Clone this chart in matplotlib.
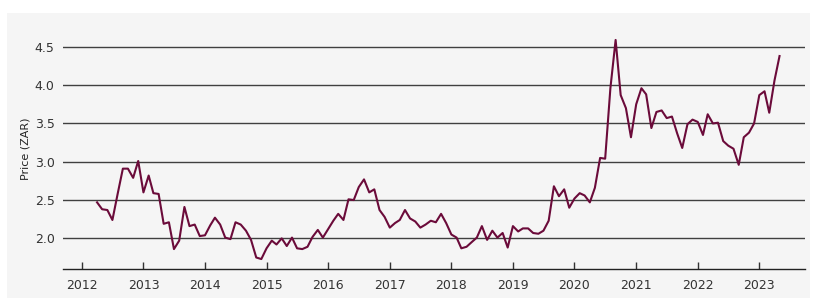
import matplotlib
matplotlib.use("Agg")
import matplotlib.pyplot as plt
from matplotlib.patches import Rectangle
import pandas as pd

# Monthly price, Apr 2012 - May 2023
start_month = "2012-04-01"
prices = [
    # 2012 (Apr-Dec)
    2.47, 2.38, 2.37, 2.24, 2.58, 2.91, 2.91, 2.79, 3.01,
    # 2013
    2.60, 2.82, 2.59, 2.58, 2.19, 2.21, 1.86, 1.97, 2.41, 2.16, 2.18, 2.03,
    # 2014
    2.04, 2.17, 2.27, 2.18, 2.01, 1.99, 2.21, 2.18, 2.10, 1.98, 1.75, 1.73,
    # 2015
    1.87, 1.97, 1.92, 2.00, 1.90, 2.01, 1.87, 1.86, 1.89, 2.02, 2.11, 2.01,
    # 2016
    2.12, 2.23, 2.32, 2.24, 2.51, 2.50, 2.67, 2.77, 2.60, 2.64, 2.37, 2.28,
    # 2017
    2.14, 2.20, 2.24, 2.37, 2.26, 2.22, 2.14, 2.18, 2.23, 2.21, 2.32, 2.20,
    # 2018
    2.05, 2.01, 1.87, 1.89, 1.95, 2.01, 2.16, 1.98, 2.10, 2.01, 2.07, 1.88,
    # 2019
    2.16, 2.09, 2.13, 2.13, 2.07, 2.06, 2.10, 2.23, 2.68, 2.55, 2.64, 2.40,
    # 2020
    2.52, 2.59, 2.56, 2.47, 2.66, 3.05, 3.04, 3.96, 4.59, 3.87, 3.70, 3.32,
    # 2021
    3.75, 3.96, 3.88, 3.44, 3.65, 3.67, 3.57, 3.59, 3.37, 3.18, 3.49, 3.55,
    # 2022
    3.52, 3.35, 3.62, 3.50, 3.51, 3.27, 3.21, 3.17, 2.96, 3.32, 3.38, 3.50,
    # 2023 (Jan-May)
    3.87, 3.92, 3.64, 4.06, 4.38,
]
dates = pd.date_range(start_month, periods=len(prices), freq="MS")

y_ticks = [2.0, 2.5, 3.0, 3.5, 4.0, 4.5]
years = list(range(2012, 2024))

W, H = 817, 298
fig = plt.figure(figsize=(W / 100, H / 100), dpi=100, facecolor="white")

# Light grey panel behind everything
fig.patches.append(Rectangle((7 / W, 0), (810 - 7) / W, 1 - 13 / H,
                             transform=fig.transFigure, facecolor="#f5f5f5",
                             edgecolor="none", zorder=-10))

ax = fig.add_axes([63 / W, 1 - 269 / H, (805 - 63) / W, (269 - 27.7) / H])
ax.set_facecolor("none")

ax.plot(dates, prices, color="#6b0b3a", lw=1.5, zorder=3)

# Gridlines
for v in y_ticks:
    ax.axhline(v, color="#404040", lw=1.0, zorder=1)

ax.set_ylim(1.6, 4.75)
ax.set_xlim(pd.Timestamp("2011-09-12"), pd.Timestamp("2023-09-29"))

ax.set_yticks(y_ticks)
ax.set_yticklabels([f"{v:.1f}" for v in y_ticks])
ax.set_xticks([pd.Timestamp(f"{y}-01-01") for y in years])
ax.set_xticklabels([str(y) for y in years])

for side in ["top", "right", "left"]:
    ax.spines[side].set_visible(False)
ax.spines["bottom"].set_color("#222222")
ax.spines["bottom"].set_linewidth(1.0)

ax.tick_params(axis="y", length=0, pad=6, labelsize=9, labelcolor="#333333")
ax.tick_params(axis="x", direction="in", length=5, width=1, color="#333333",
               pad=7, labelsize=9, labelcolor="#333333")

ax.set_ylabel("Price (ZAR)", fontsize=8, color="#222222", labelpad=3)

fig.savefig("out.png", dpi=100, facecolor=fig.get_facecolor())
